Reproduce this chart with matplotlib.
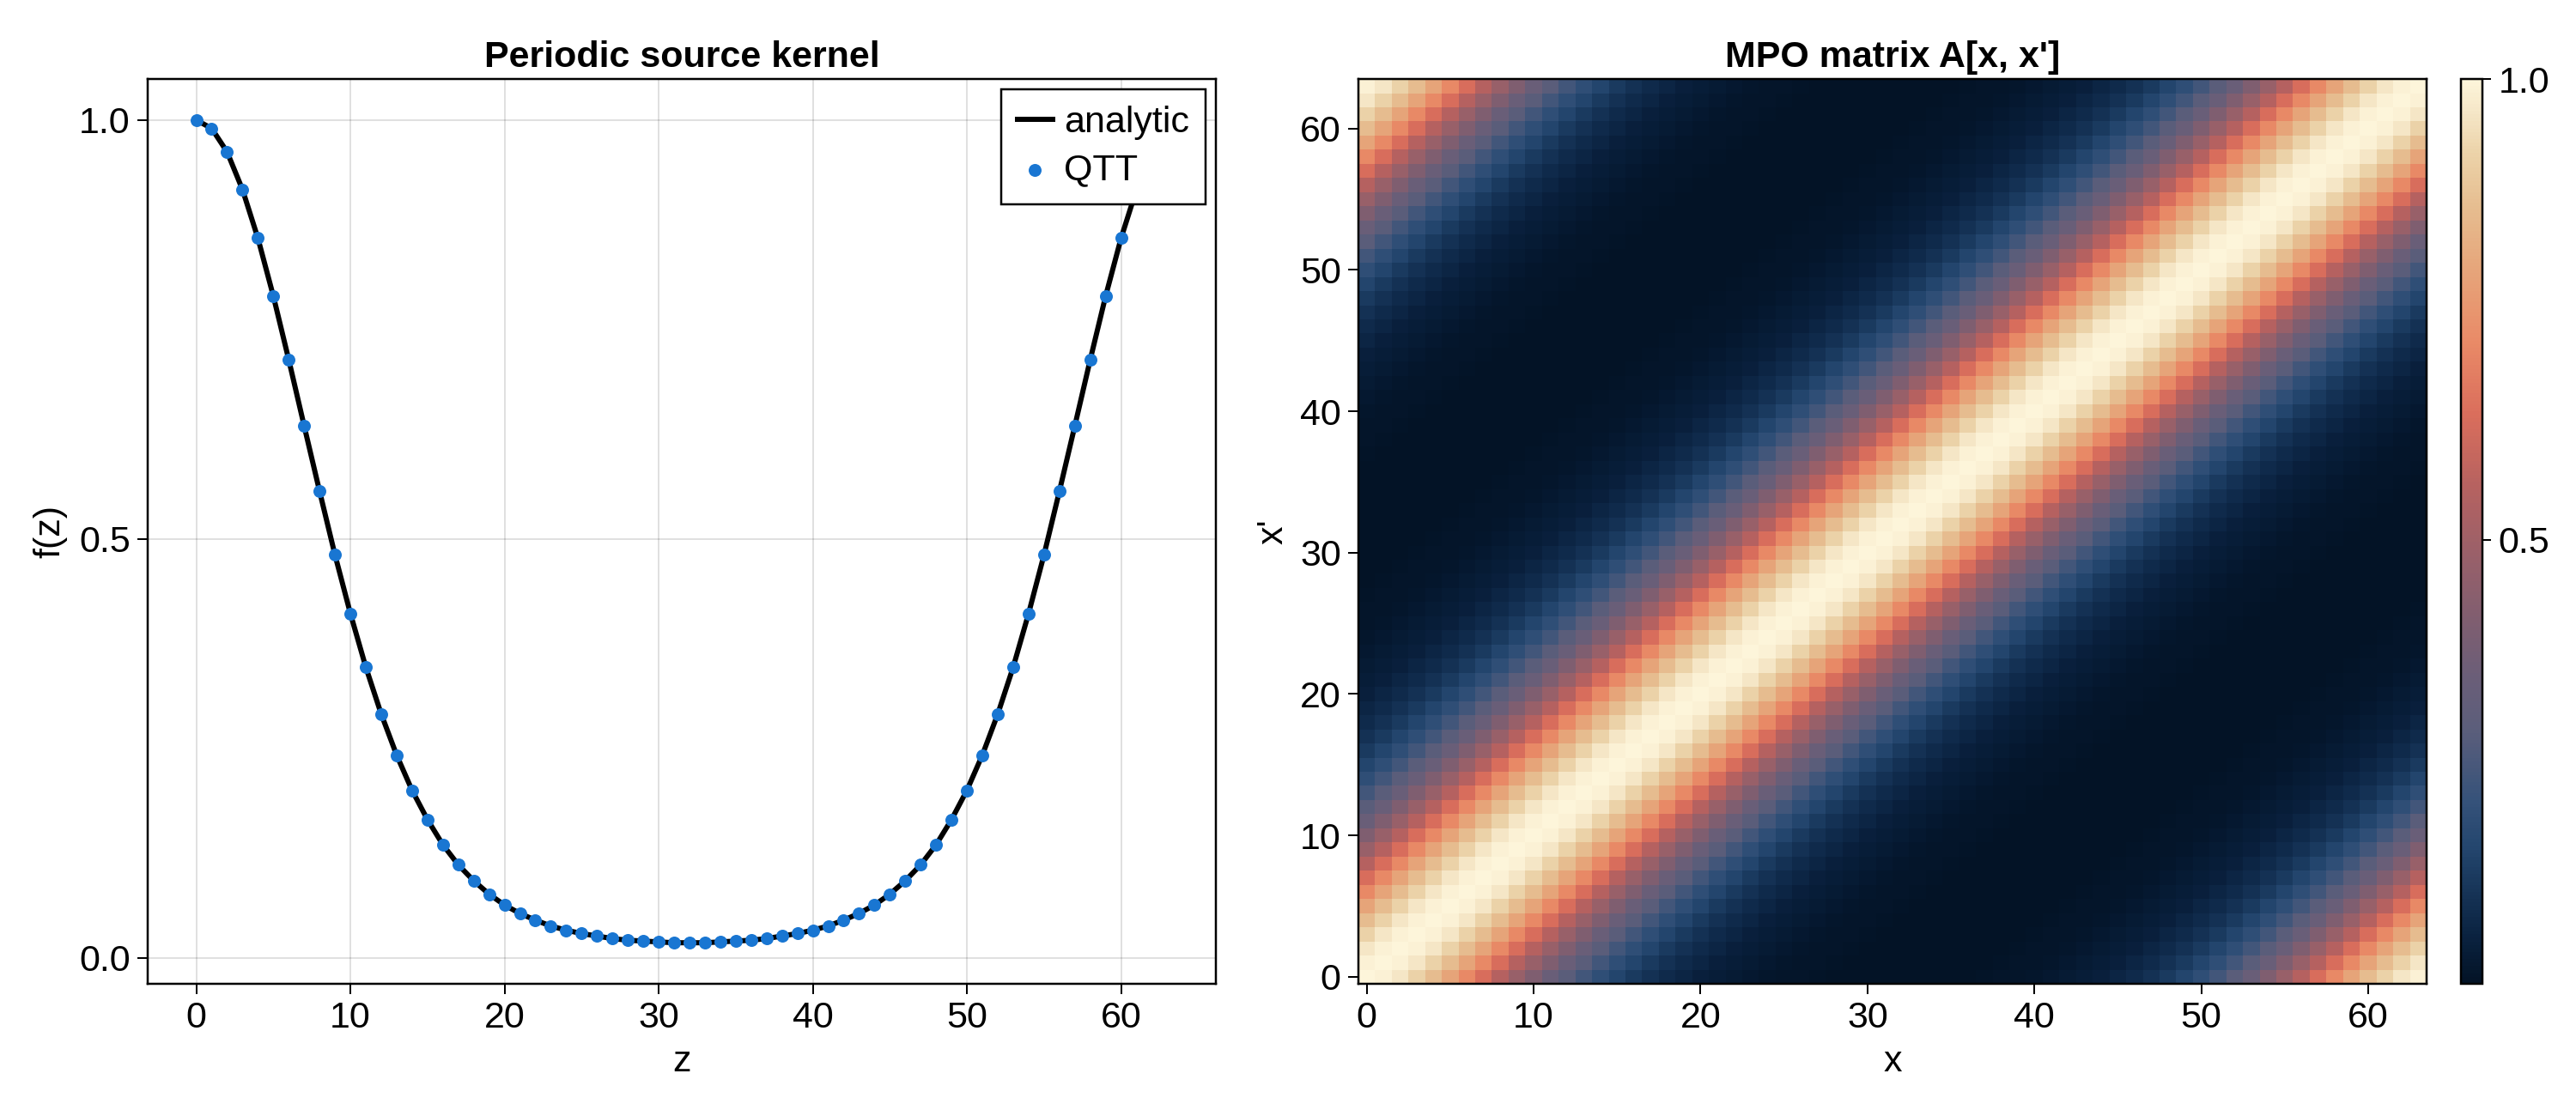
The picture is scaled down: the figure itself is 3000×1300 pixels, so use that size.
import numpy as np
import matplotlib
matplotlib.use("Agg")
import matplotlib.pyplot as plt
from matplotlib.colors import LinearSegmentedColormap

plt.rcParams['font.family'] = ['Liberation Sans', 'DejaVu Sans']

# ---- data ----
z = list(range(64))
kernel = [1.000, 0.990, 0.962, 0.917, 0.859, 0.790, 0.714, 0.635, 0.557, 0.481,
          0.411, 0.347, 0.291, 0.242, 0.200, 0.165, 0.135, 0.111, 0.092, 0.076,
          0.063, 0.053, 0.045, 0.038, 0.033, 0.029, 0.026, 0.023, 0.021, 0.020,
          0.019, 0.018, 0.018, 0.018, 0.019, 0.020, 0.021, 0.023, 0.026, 0.029,
          0.033, 0.038, 0.045, 0.053, 0.063, 0.076, 0.092, 0.111, 0.135, 0.165,
          0.200, 0.242, 0.291, 0.347, 0.411, 0.481, 0.557, 0.635, 0.714, 0.790,
          0.859, 0.917, 0.962, 0.990]
qtt = kernel[:]  # QTT samples coincide with analytic values
xticks = [0, 10, 20, 30, 40, 50, 60]
f_ticks = [0.0, 0.5, 1.0]
cbar_ticks = [0.5, 1.0]

# MPO matrix A[x, x'] = f((x - x') mod 64), built from kernel
n = len(kernel)
kern = np.array(kernel)
idx = (np.arange(n)[None, :] - np.arange(n)[:, None]) % n  # rows: x', cols: x
A = kern[idx]

# lipari-like colormap
lipari = LinearSegmentedColormap.from_list("lipari", [
    (0.00, "#031326"), (0.05, "#0a2240"), (0.10, "#163457"), (0.15, "#24466e"),
    (0.20, "#35527a"), (0.28, "#5b5e7b"), (0.34, "#6b5e78"), (0.40, "#7f5e70"),
    (0.47, "#98606a"), (0.55, "#b66260"), (0.63, "#da6e5c"), (0.71, "#e98a67"),
    (0.79, "#e6a57a"), (0.86, "#e6bd90"), (0.92, "#ecd3a9"), (0.96, "#f4e4c4"),
    (1.00, "#fdf5da")])

W, H = 3000, 1300
fig = plt.figure(figsize=(30, 13), dpi=100)
PX = 72 / 100.0  # points per pixel
FS = 43 * PX

def rect(l, t, r, b):
    return [l / W, (H - b) / H, (r - l) / W, (b - t) / H]

def style(ax):
    for s in ax.spines.values():
        s.set_linewidth(2.5 * PX)
    ax.tick_params(direction='out', length=12 * PX, width=2 * PX,
                   labelsize=FS, pad=6)

# ---- left panel ----
ax1 = fig.add_axes(rect(172, 92, 1416, 1146))
style(ax1)
ax1.plot(z, kernel, color='black', lw=6 * PX, label='analytic', zorder=3)
ax1.scatter(z, qtt, s=(15 * PX) ** 2, color='#1976D2', label='QTT', zorder=4,
            linewidths=0)
ax1.set_xlim(-3.15, 66.15)
ax1.set_ylim(-0.031, 1.049)
ax1.set_xticks(xticks)
ax1.set_yticks(f_ticks)
ax1.set_yticklabels(["0.0", "0.5", "1.0"])
ax1.grid(True, color='black', alpha=0.12, lw=2 * PX)
ax1.set_axisbelow(True)
ax1.set_title("Periodic source kernel", fontsize=FS, fontweight='bold', pad=10)
ax1.set_xlabel("z", fontsize=FS, labelpad=8)
ax1.set_ylabel("f(z)", fontsize=FS, labelpad=10)
leg = ax1.legend(loc='upper right', bbox_to_anchor=(0.9904, 0.9886),
                 borderaxespad=0, fontsize=FS, frameon=True, fancybox=False,
                 edgecolor='black', framealpha=1, handlelength=0.95,
                 handletextpad=0.3, labelspacing=0.35, borderpad=0.45)
leg.get_frame().set_linewidth(2.5 * PX)

# ---- right panel ----
ax2 = fig.add_axes(rect(1582, 92, 2826, 1146))
style(ax2)
im = ax2.imshow(A, origin='lower', cmap=lipari, aspect='auto',
                extent=[-0.5, n - 0.5, -0.5, n - 0.5], interpolation='nearest',
                vmin=kern.min(), vmax=kern.max())
ax2.set_xticks(xticks)
ax2.set_yticks(xticks)
ax2.set_title("MPO matrix A[x, x']", fontsize=FS, fontweight='bold', pad=10)
ax2.set_xlabel("x", fontsize=FS, labelpad=8)
ax2.set_ylabel("x'", fontsize=FS, labelpad=8)

cax = fig.add_axes(rect(2866, 92, 2891, 1146))
cb = fig.colorbar(im, cax=cax)
cb.set_ticks(cbar_ticks)
cb.set_ticklabels(["0.5", "1.0"])
cb.outline.set_linewidth(2.5 * PX)
cax.tick_params(direction='out', length=10 * PX, width=2 * PX,
                labelsize=FS, pad=6)

fig.savefig("out.png", dpi=100, facecolor='white')
